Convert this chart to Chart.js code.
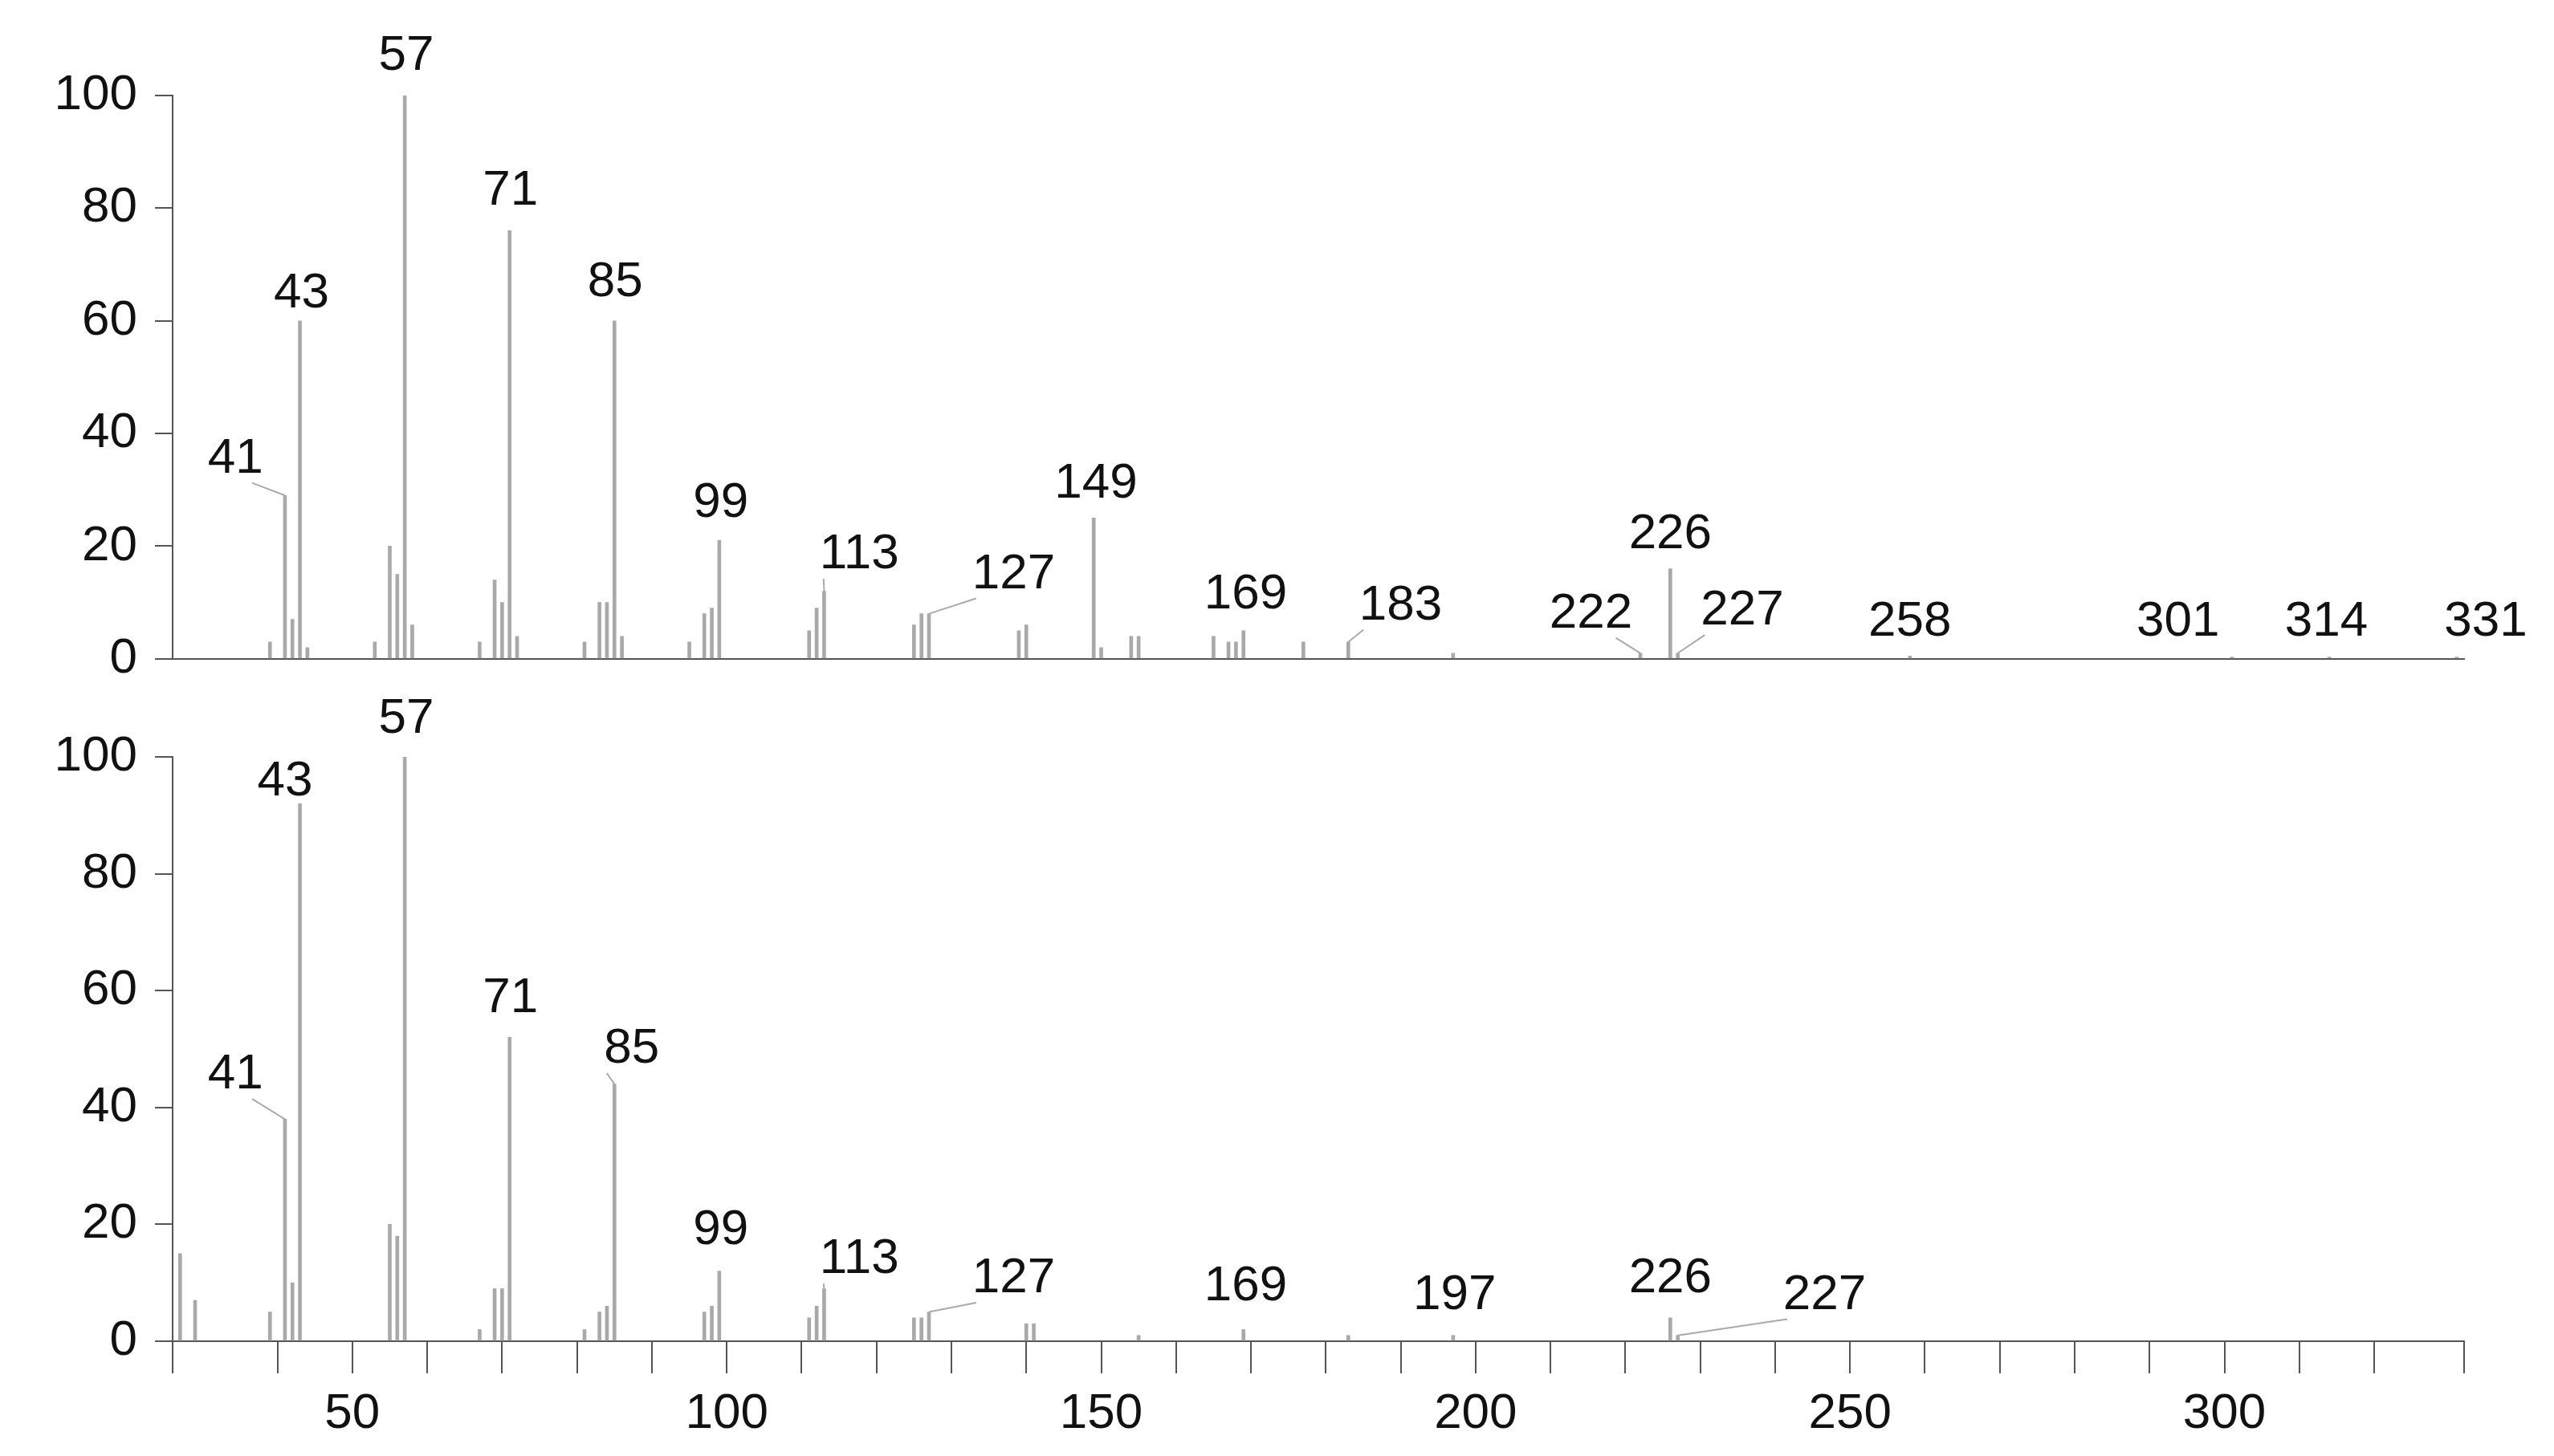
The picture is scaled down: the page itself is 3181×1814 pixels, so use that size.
<!DOCTYPE html>
<html><head><meta charset="utf-8">
<script src="https://cdn.jsdelivr.net/npm/chart.js@4.4.1/dist/chart.umd.min.js"></script>
<style>body{margin:0;background:#fff;width:3181px;height:1814px;overflow:hidden}
#a{position:absolute;left:0;top:0}#b{position:absolute;left:0;top:840px}</style>
</head><body>
<div id="a" style="width:3181px;height:880px"><canvas id="c1"></canvas></div>
<div id="b" style="width:3181px;height:974px"><canvas id="c2"></canvas></div>
<script>
const topMz  = [39,41,42,43,44,53,55,56,57,58,67,69,70,71,72,81,83,84,85,86,95,97,98,99,111,112,113,125,126,127,139,140,149,150,154,155,165,167,168,169,177,183,197,222,226,227,258,301,314,331];
const topInt = [3,29,7,60,2,3,20,15,100,6,3,14,10,76,4,3,10,10,60,4,3,8,9,21,5,9,12,6,8,8,5,6,25,2,4,4,4,3,3,5,3,3,1,1,16,1,0.5,0.3,0.3,0.3];
const botMz  = [27,29,39,41,42,43,55,56,57,67,69,70,71,81,83,84,85,97,98,99,111,112,113,125,126,127,140,141,155,169,183,197,226,227];
const botInt = [15,7,5,38,10,92,20,18,100,2,9,9,52,2,5,6,44,5,6,12,4,6,9,4,4,5,3,3,1,2,1,1,4,1];
const topLabels = ["41","43","57","71","85","99","113","127","149","169","183","222","226","227","258","301","314","331"];
const topLabelPeak = [41,43,57,71,85,99,113,127,149,169,183,222,226,227,258,301,314,331];
const topLabelX = [34.4,43.2,57.2,71.1,85.1,99.2,117.7,138.3,149.3,169.3,190,215.4,226,235.6,258,293.8,313.6,334.9];
const topLabelY = [35.5,64.8,107,83,66.8,27.6,18.5,15,31,11.4,9.4,8,22,8.5,6.5,6.5,6.5,6.5];
const botLabels = ["41","43","57","71","85","99","113","127","169","197","226","227"];
const botLabelPeak = [41,43,57,71,85,99,113,127,169,197,226,227];
const botLabelX = [34.4,41,57.2,71.1,87.3,99.2,117.7,138.3,169.3,197.2,226,246.6];
const botLabelY = [45.6,95.8,106.5,58.6,50,19,14,10.7,9.3,7.9,10.7,7.9];
const yTicks = [0,20,40,60,80,100];

const FONT = "'Liberation Sans', Arial, sans-serif";
function labelPlugin(labels, peaks, lx, ly, mz, inten){
  return {id:'lbl', afterDatasetsDraw(ch){
    const c=ch.ctx, xs=ch.scales.x, ys=ch.scales.y;
    c.save(); c.font='62px '+FONT; c.fillStyle='#111'; c.textAlign='center'; c.textBaseline='middle';
    labels.forEach((t,i)=>{
      const px=xs.getPixelForValue(lx[i]), py=ys.getPixelForValue(ly[i]);
      c.fillText(t,px,py);
      const k=mz.indexOf(peaks[i]);
      if(k>=0 && inten[k]>0.5 && Math.abs(lx[i]-peaks[i])>2){
        const tx=xs.getPixelForValue(peaks[i]), ty=ys.getPixelForValue(inten[k]);
        const w=c.measureText(t).width/2;
        const sx = lx[i]<peaks[i] ? px+w*0.6 : px-w*0.9;
        c.strokeStyle='#aaa'; c.lineWidth=2;
        c.beginPath(); c.moveTo(sx,py+30); c.lineTo(tx,ty); c.stroke();
      }
    });
    c.restore();
  }};
}
function yScale(){
  return {min:0,max:100,afterFit(s){s.width=215;},
    afterBuildTicks(s){s.ticks=yTicks.map(v=>({value:v}));},
    ticks:{font:{size:62,family:FONT},color:'#111',padding:22},
    grid:{display:true,drawOnChartArea:false,tickLength:22,color:'#555',lineWidth:2},
    border:{display:true,color:'#555',width:2}};
}
function make(id, mz, inten, lp, showX){
  const x = {type:'linear',min:26,max:332,offset:false,
    afterFit(s){s.height = showX?143:0;},
    ticks:{display:showX,stepSize:10,autoSkip:false,maxRotation:0,font:{size:62,family:FONT},color:'#111',padding:14,
      callback:v=>v%50===0?String(v):''},
    grid:{display:showX,offset:false,drawOnChartArea:false,tickLength:40,color:'#555',lineWidth:2},
    border:{display:true,color:'#555',width:2}};
  return new Chart(document.getElementById(id),{type:'bar',
    data:{datasets:[{data:mz.map((m,i)=>({x:m,y:inten[i]})),backgroundColor:'#a9a9a9',barThickness:4,grouped:false}]},
    options:{responsive:true,maintainAspectRatio:false,animation:false,
      layout:{padding:showX?{top:103,right:112,bottom:0,left:0}:{top:119,right:112,bottom:39,left:0}},
      plugins:{legend:{display:false},tooltip:{enabled:false}},
      scales:{x:x,y:yScale()}},
    plugins:[lp]});
}
make('c1',topMz,topInt,labelPlugin(topLabels,topLabelPeak,topLabelX,topLabelY,topMz,topInt),false);
make('c2',botMz,botInt,labelPlugin(botLabels,botLabelPeak,botLabelX,botLabelY,botMz,botInt),true);
</script></body></html>
